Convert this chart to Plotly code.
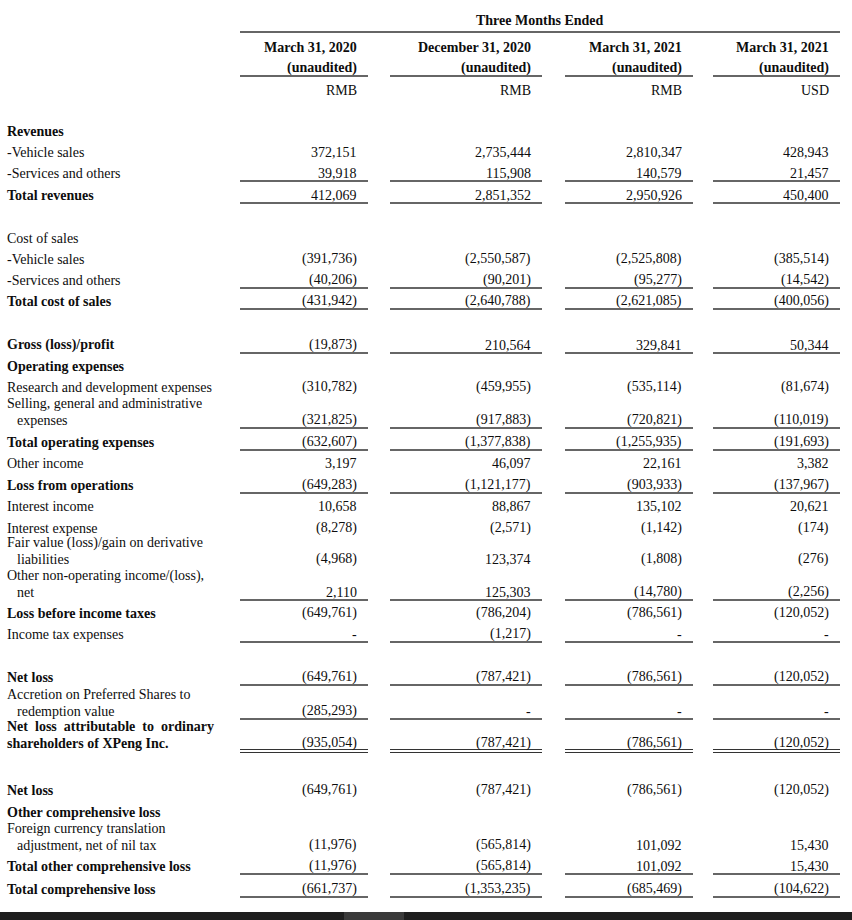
import plotly.graph_objects as go

# ---------------- data ----------------
col_titles = ["March 31, 2020", "December 31, 2020", "March 31, 2021", "March 31, 2021"]
col_status = ["(unaudited)", "(unaudited)", "(unaudited)", "(unaudited)"]
col_currency = ["RMB", "RMB", "RMB", "USD"]
group_title = "Three Months Ended"

row_labels = [
    "Revenues", "-Vehicle sales", "-Services and others", "Total revenues",
    "Cost of sales", "-Vehicle sales", "-Services and others", "Total cost of sales",
    "Gross (loss)/profit", "Operating expenses", "Research and development expenses",
    "Selling, general and administrative|expenses", "Total operating expenses",
    "Other income", "Loss from operations", "Interest income", "Interest expense",
    "Fair value (loss)/gain on derivative|liabilities",
    "Other non-operating income/(loss),|net",
    "Loss before income taxes", "Income tax expenses",
    "Net loss", "Accretion on Preferred Shares to|redemption value",
    "Net\u2002loss\u2002attributable\u2002to\u2002ordinary|shareholders of XPeng Inc.",
    "Net loss", "Other comprehensive loss",
    "Foreign currency translation|adjustment, net of nil tax",
    "Total other comprehensive loss", "Total comprehensive loss",
]

# None = section heading (no value), 0 = shown as "-"
mar2020_rmb = [None, 372151, 39918, 412069,
               None, -391736, -40206, -431942,
               -19873, None, -310782, -321825, -632607, 3197, -649283, 10658, -8278,
               -4968, 2110, -649761, 0,
               -649761, -285293, -935054,
               -649761, None, -11976, -11976, -661737]
dec2020_rmb = [None, 2735444, 115908, 2851352,
               None, -2550587, -90201, -2640788,
               210564, None, -459955, -917883, -1377838, 46097, -1121177, 88867, -2571,
               123374, 125303, -786204, -1217,
               -787421, 0, -787421,
               -787421, None, -565814, -565814, -1353235]
mar2021_rmb = [None, 2810347, 140579, 2950926,
               None, -2525808, -95277, -2621085,
               329841, None, -535114, -720821, -1255935, 22161, -903933, 135102, -1142,
               -1808, -14780, -786561, 0,
               -786561, 0, -786561,
               -786561, None, 101092, 101092, -685469]
mar2021_usd = [None, 428943, 21457, 450400,
               None, -385514, -14542, -400056,
               50344, None, -81674, -110019, -191693, 3382, -137967, 20621, -174,
               -276, -2256, -120052, 0,
               -120052, 0, -120052,
               -120052, None, 15430, 15430, -104622]
columns = [mar2020_rmb, dec2020_rmb, mar2021_rmb, mar2021_usd]

bold_rows = {"Revenues", "Total revenues", "Total cost of sales", "Gross (loss)/profit",
             "Operating expenses", "Total operating expenses", "Loss from operations",
             "Loss before income taxes", "Net loss", "Other comprehensive loss",
             "Total other comprehensive loss", "Total comprehensive loss"}

# ---------------- layout (pixel coordinates) ----------------
W, H = 852, 920
row_y = [131, 152, 173, 195,
         238, 259, 280, 301,
         345, 366, 387, 420, 442, 463, 485, 506, 528, 559, 592, 613, 634,
         677, 711, 743,
         790, 812, 845, 866, 889]
single_rule_rows = [2, 3, 6, 7, 8, 11, 12, 14, 18, 20, 21, 22, 27, 28]
double_rule_rows = [23]
col_left = [240, 390, 565, 713]
col_right = [368, 542, 693, 840]
text_pad = 10
label_x, indent_x = 6, 16
wrap_dy = 16.5
rule_dy = 8

FONT = "Liberation Serif"
FS = 14
TXT = "#0d0d0d"
LINE = "#333333"


def fmt(v):
    if v == 0:
        return "-"
    if v < 0:
        return "({:,})".format(-v)
    return "{:,}".format(v)


def b(s, bold):
    return "<b>" + s + "</b>" if bold else s


ann = []
shapes = []


def text(x, y, s, anchor, bold=False):
    ann.append(dict(x=x, y=y, xref="x", yref="y", text=b(s, bold),
                    showarrow=False, xanchor=anchor, yanchor="middle", borderpad=0,
                    font=dict(family=FONT, size=FS, color=TXT)))


def hline(x0, x1, y, w=1.4):
    shapes.append(dict(type="line", xref="x", yref="y", x0=x0, x1=x1, y0=y, y1=y,
                       line=dict(color=LINE, width=w)))


# header
text((col_left[0] + col_right[-1]) / 2, 20, group_title, "center", True)
hline(col_left[0], col_right[-1], 32, 1.6)
for i in range(4):
    xr = col_right[i] - text_pad
    text(xr, 47, col_titles[i], "right", True)
    text(xr, 68, col_status[i], "right", True)
    hline(col_left[i], col_right[i], 76)
    text(xr, 90, col_currency[i], "right", False)

# body
for r, lab in enumerate(row_labels):
    y = row_y[r]
    parts = lab.split("|")
    bold = lab in bold_rows or lab.startswith("Net\u2002loss")
    if len(parts) == 2:
        text(label_x, y - wrap_dy, parts[0], "left", bold)
        second_x = label_x if parts[1].startswith("shareholders") else indent_x
        text(second_x, y, parts[1], "left", bold)
    else:
        text(label_x, y, lab, "left", bold)
    for c in range(4):
        v = columns[c][r]
        if v is not None:
            text(col_right[c] - text_pad, y, fmt(v), "right", False)
    if r in single_rule_rows:
        for c in range(4):
            hline(col_left[c], col_right[c], y + rule_dy)
    if r in double_rule_rows:
        for c in range(4):
            hline(col_left[c], col_right[c], y + rule_dy - 1.5, 1.1)
            hline(col_left[c], col_right[c], y + rule_dy + 1.5, 1.1)

# bottom dark strip (screenshot edge)
shapes.append(dict(type="rect", xref="x", yref="y", x0=0, x1=W, y0=912, y1=H,
                   fillcolor="#1e1e1e", line=dict(width=0)))
shapes.append(dict(type="rect", xref="x", yref="y", x0=344, x1=404, y0=912, y1=H,
                   fillcolor="#3a3a3a", line=dict(width=0)))

fig = go.Figure(go.Scatter(x=[0, W], y=[0, H], mode="markers",
                           marker=dict(opacity=0), hoverinfo="skip", showlegend=False))
fig.update_layout(
    width=W, height=H, margin=dict(l=0, r=0, t=0, b=0),
    paper_bgcolor="white", plot_bgcolor="white",
    xaxis=dict(range=[0, W], visible=False, fixedrange=True),
    yaxis=dict(range=[H, 0], visible=False, fixedrange=True),
    annotations=ann, shapes=shapes, showlegend=False,
)
fig.write_html("out.html", config={"displayModeBar": False},
               post_script="document.body.style.margin='0';document.body.style.overflow='hidden';")
